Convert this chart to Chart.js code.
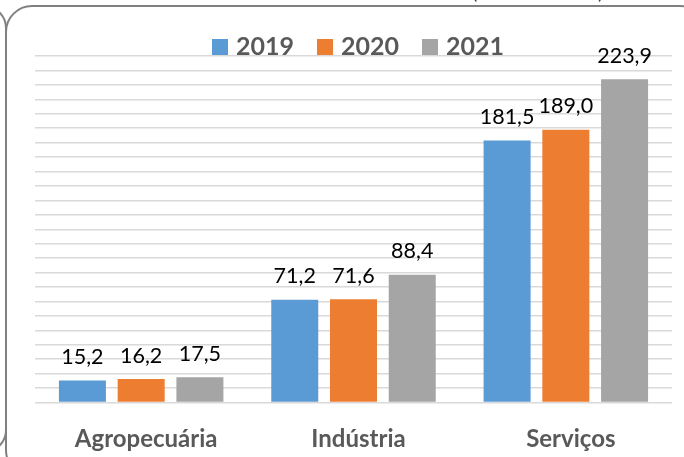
<!DOCTYPE html>
<html>
<head>
<meta charset="utf-8">
<script src="https://cdn.jsdelivr.net/npm/chart.js@4.4.0/dist/chart.umd.min.js"></script>
<style>
  html, body { margin: 0; padding: 0; background: #fff; }
  #wrap { width: 684px; height: 457px; position: relative; }
</style>
</head>
<body>
<div id="wrap"><canvas id="chart"></canvas></div>
<script>
// data
var categories = ['Agropecuária', 'Indústria', 'Serviços'];
var years = ['2019', '2020', '2021'];
var v2019 = [15.2, 71.2, 181.5];
var v2020 = [16.2, 71.6, 189.0];
var v2021 = [17.5, 88.4, 223.9];
var colors = ['#5B9BD5', '#ED7D31', '#A5A5A5'];

const FONT = 'Lato, "Open Sans", sans-serif';

// frame around the chart (cropped box edges)
const framePlugin = {
  id: 'frame',
  beforeDraw(chart) {
    const ctx = chart.ctx;
    ctx.save();
    ctx.strokeStyle = '#808080';
    ctx.lineWidth = 2;
    ctx.beginPath();
    ctx.roundRect(6, 6, 700, 470, 26);
    ctx.stroke();
    ctx.beginPath();
    ctx.roundRect(-400, 6, 406, 446, 22);
    ctx.stroke();
    // bottom of a cropped heading above the box
    ctx.fillStyle = '#404040';
    ctx.font = '20px ' + FONT;
    ctx.textBaseline = 'alphabetic';
    ctx.fillText('(', 472, -1);
    ctx.fillText(')', 598, -1);
    ctx.restore();
  }
};

// legend drawn across the top of the plot
const legendPlugin = {
  id: 'topLegend',
  afterDraw(chart) {
    const ctx = chart.ctx;
    ctx.save();
    ctx.font = 'bold 25px ' + FONT;
    ctx.textBaseline = 'alphabetic';
    let x = 212;
    chart.data.datasets.forEach(function(ds) {
      ctx.fillStyle = ds.backgroundColor;
      ctx.fillRect(x, 39, 16, 16);
      ctx.fillStyle = '#595959';
      ctx.fillText(ds.label, x + 24, 55);
      x += 24 + ctx.measureText(ds.label).width + 23;
    });
    ctx.restore();
  }
};

// value labels above bars
const valuePlugin = {
  id: 'values',
  afterDatasetsDraw(chart) {
    const ctx = chart.ctx;
    ctx.save();
    ctx.font = '21.5px ' + FONT;
    ctx.fillStyle = '#000';
    ctx.textAlign = 'center';
    ctx.textBaseline = 'alphabetic';
    chart.data.datasets.forEach(function(ds, i) {
      chart.getDatasetMeta(i).data.forEach(function(bar, j) {
        ctx.fillText(ds.data[j].toFixed(1).replace('.', ','), bar.x, bar.y - 16.5);
      });
    });
    ctx.restore();
  }
};

new Chart(document.getElementById('chart').getContext('2d'), {
  type: 'bar',
  data: {
    labels: categories,
    datasets: [
      { label: years[0], data: v2019, backgroundColor: colors[0] },
      { label: years[1], data: v2020, backgroundColor: colors[1] },
      { label: years[2], data: v2021, backgroundColor: colors[2] }
    ]
  },
  options: {
    responsive: true,
    maintainAspectRatio: false,
    animation: false,
    categoryPercentage: 0.83,
    barPercentage: 0.8,
    layout: { padding: { left: 35, right: 12, top: 56, bottom: 4.5 } },
    plugins: {
      legend: { display: false },
      tooltip: { enabled: false }
    },
    scales: {
      x: {
        grid: { display: false, drawTicks: false },
        border: { display: false },
        afterFit: function(scale) { scale.height = 50; },
        ticks: {
          color: '#595959',
          padding: 22,
          labelOffset: 5,
          font: { family: FONT, size: 24, weight: 'bold' }
        }
      },
      y: {
        min: 0,
        max: 240,
        ticks: { display: false, stepSize: 10 },
        grid: { color: '#d9d9d9', lineWidth: 1.5, drawTicks: false },
        border: { display: false }
      }
    }
  },
  plugins: [framePlugin, legendPlugin, valuePlugin]
});
</script>
</body>
</html>
